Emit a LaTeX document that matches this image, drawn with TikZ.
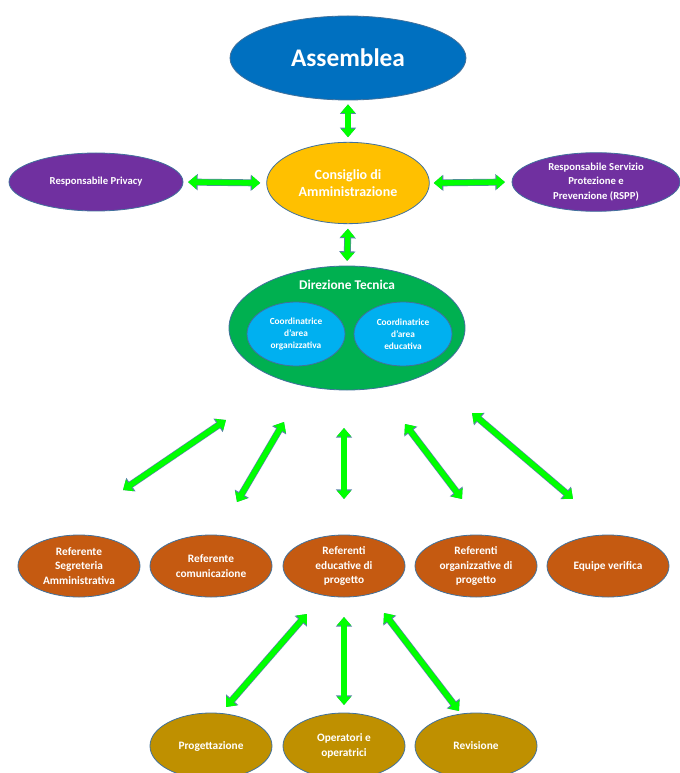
\documentclass[tikz,border=0pt]{standalone}
\usepackage{fontspec}
\setmainfont{Carlito}
\usepackage{xcolor}
\usepackage{tikz}
\usetikzlibrary{shapes.geometric}
\usetikzlibrary{arrows.meta}
\definecolor{asmblue}{RGB}{0,112,192}
\definecolor{cdagold}{RGB}{255,192,0}
\definecolor{respurple}{RGB}{112,48,160}
\definecolor{dtgreen}{RGB}{0,176,80}
\definecolor{coordblue}{RGB}{0,176,240}
\definecolor{refbrown}{RGB}{197,90,17}
\definecolor{opgold}{RGB}{191,144,0}
\definecolor{arrowgreen}{RGB}{0,255,0}
\definecolor{edgeblue}{RGB}{65,113,156}
\definecolor{arrowedge}{RGB}{90,130,170}

\begin{document}
\begin{tikzpicture}[x=0.75pt, y=-0.75pt,
		every node/.style={ellipse, draw=edgeblue, line width=0.6pt, inner sep=0pt, text=white, align=center},
		row/.style={minimum width=91.5pt, minimum height=46.5pt, fill=refbrown, font=\bfseries\fontsize{8.5}{11}\selectfont},
		dblarrow/.style={draw=arrowgreen, line width=4.2pt, {Triangle[width=10.3pt,length=6.3pt]}-{Triangle[width=10.3pt,length=6.3pt]},
			preaction={draw=arrowedge, line width=5.2pt, {Triangle[width=11.8pt,length=7.2pt]}-{Triangle[width=11.8pt,length=7.2pt]}}}]
	\useasboundingbox (0,0) rectangle (679,773);
	% Nodes
	\node[fill=asmblue, minimum width=177pt, minimum height=63pt, font=\bfseries\fontsize{19}{22}\selectfont] (asm) at (348,58) {Assemblea};
	\node[fill=cdagold, minimum width=122pt, minimum height=61pt, font=\bfseries\fontsize{10.5}{12.75}\selectfont] (cda) at (348,183) {Consiglio di\\Amministrazione};
	\node[fill=respurple, minimum width=130.5pt, minimum height=43.5pt, font=\bfseries\fontsize{8}{11}\selectfont] (priv) at (96,182) {Responsabile Privacy};
	\node[fill=respurple, minimum width=126pt, minimum height=44pt, font=\bfseries\fontsize{8}{11}\selectfont] (rspp) at (596,182) {Responsabile Servizio\\Protezione e\\Prevenzione (RSPP)};
	\node[fill=dtgreen, minimum width=177pt, minimum height=93pt] (dt) at (347,328) {};
	\node[draw=none, shape=rectangle, font=\bfseries\fontsize{10}{12}\selectfont] (dttitle) at (347,285) {Direzione Tecnica};
	\node[fill=coordblue, minimum width=73.5pt, minimum height=48pt, font=\bfseries\fontsize{7}{9}\selectfont] (corg) at (296,334) {Coordinatrice\\d'area\\organizzativa};
	\node[fill=coordblue, minimum width=73.5pt, minimum height=48pt, font=\bfseries\fontsize{7}{9}\selectfont] (cedu) at (403,334) {Coordinatrice\\d'area\\educativa};
	% Referenti
	\node[row] (r1) at (79,566) {Referente\\Segreteria\\Amministrativa};
	\node[row] (r2) at (211,566) {Referente\\comunicazione};
	\node[row] (r3) at (344,566) {Referenti\\educative di\\progetto};
	\node[row] (r4) at (476,566) {Referenti\\organizzative di\\progetto};
	\node[row] (r5) at (608,566) {Equipe verifica};
	% Operativi
	\node[row, fill=opgold, minimum height=49.5pt] (o1) at (211,746) {Progettazione};
	\node[row, fill=opgold, minimum height=49.5pt] (o2) at (344,746) {Operatori e\\operatrici};
	\node[row, fill=opgold, minimum height=49.5pt] (o3) at (476,746) {Revisione};
	% Arrow ends
	\coordinate (u1) at (226,420); \coordinate (d1) at (123,490);
	\coordinate (u2) at (284,422); \coordinate (d2) at (237,502);
	\coordinate (u3) at (344,428); \coordinate (d3) at (344,499);
	\coordinate (u4) at (405,424); \coordinate (d4) at (462,499);
	\coordinate (u5) at (472,413); \coordinate (d5) at (573,499);
	\coordinate (v1) at (307,614); \coordinate (w1) at (226,707);
	\coordinate (v2) at (344,617); \coordinate (w2) at (344,705);
	\coordinate (v3) at (384,613); \coordinate (w3) at (459,711);
	% Arrows
	\draw[dblarrow, shorten <=3pt, shorten >=3.5pt] (asm.south) -- (cda.north);
	\draw[dblarrow, shorten <=3.5pt, shorten >=4.5pt] (priv.east) -- (cda.west);
	\draw[dblarrow, shorten <=3pt, shorten >=5pt] (cda.east) -- (rspp.west);
	\draw[dblarrow, shorten <=3.5pt, shorten >=3.5pt] (cda.south) -- (dt.north);
	\foreach \i in {1,...,5} {
		\draw[dblarrow] (u\i) -- (d\i);
	}
	\foreach \i in {1,2,3} {
		\draw[dblarrow] (v\i) -- (w\i);
	}
\end{tikzpicture}
\end{document}
